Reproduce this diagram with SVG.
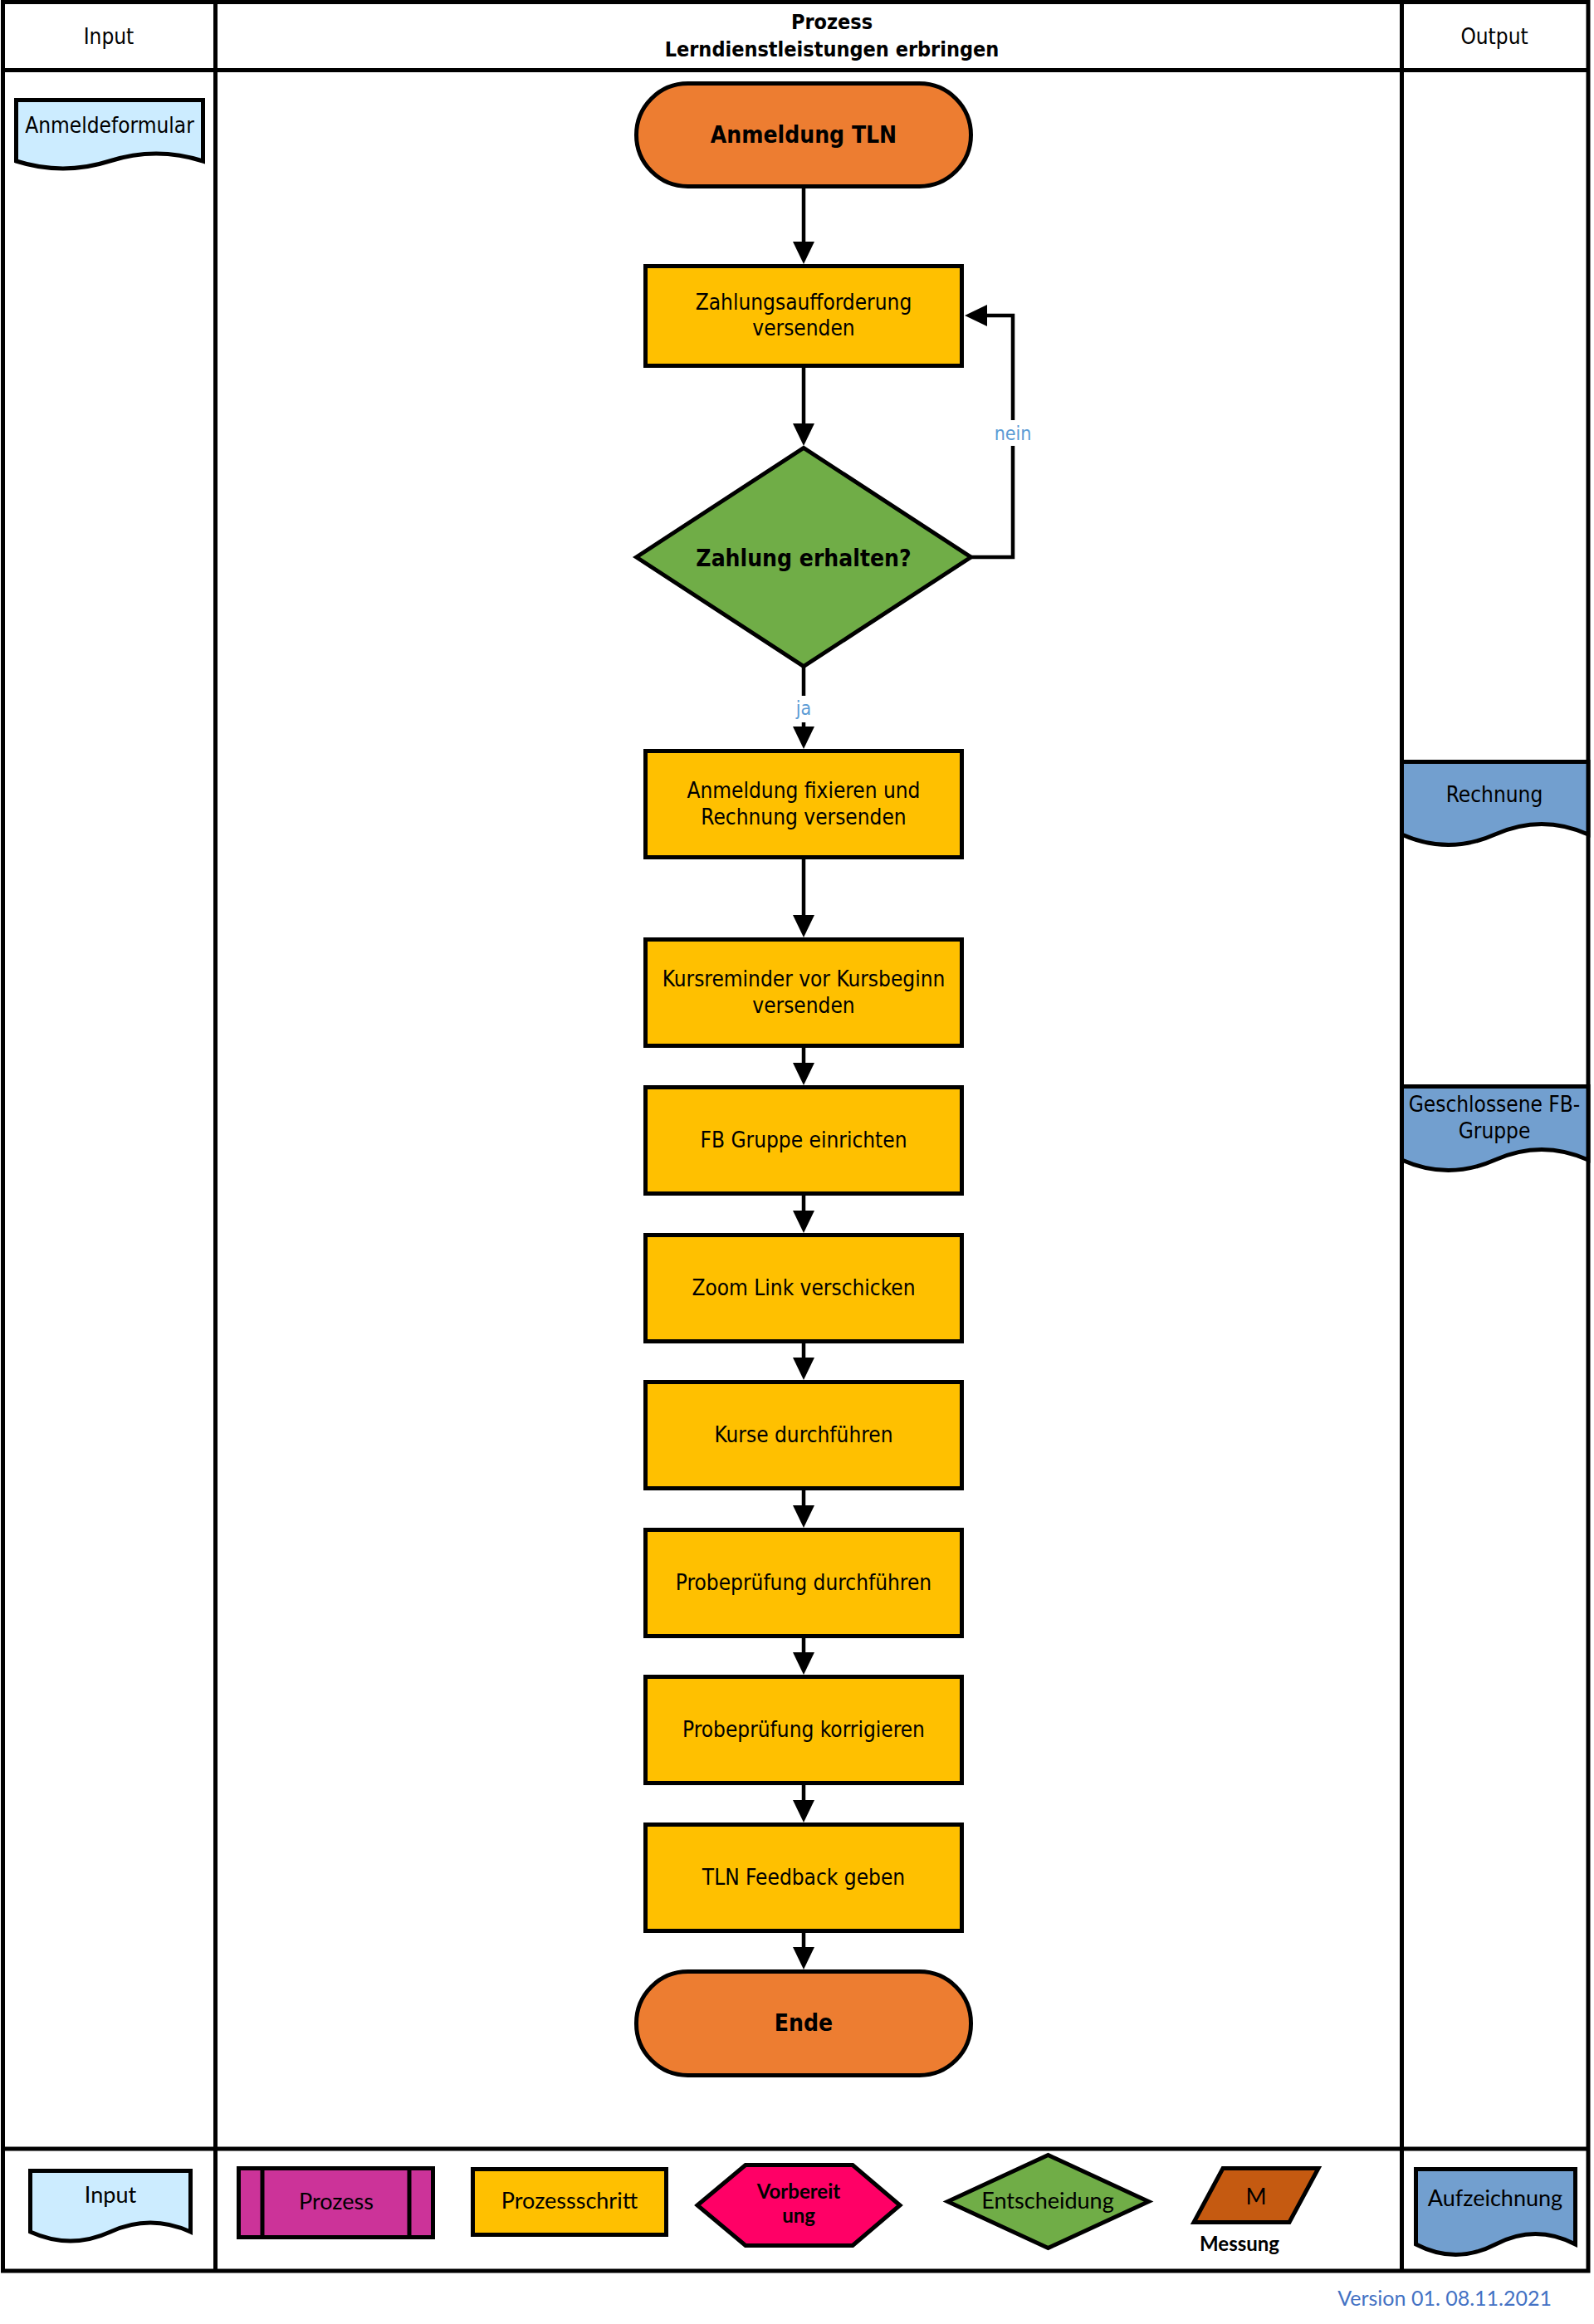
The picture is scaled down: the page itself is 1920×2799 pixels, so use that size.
<svg xmlns="http://www.w3.org/2000/svg" width="1920" height="2799" viewBox="0 0 1920 2799">
<style>
.frame{fill:none;stroke:#000;stroke-width:5}
.ln{stroke:#000;stroke-width:4.5;fill:none}
.sh{stroke:#000;stroke-width:5}
.t{font-family:"DejaVu Sans Condensed","DejaVu Sans",sans-serif;font-stretch:condensed;font-size:26px;fill:#000;text-anchor:middle}
.b{font-weight:bold;font-size:28px}
.hb{font-weight:bold;font-size:25px}
.lg{font-family:Lato,"Liberation Sans",sans-serif;font-size:27px;fill:#000;text-anchor:middle}
.lgb{font-weight:bold;font-size:24px}
.lbl{font-family:"DejaVu Sans Condensed","DejaVu Sans",sans-serif;font-stretch:condensed;font-size:23px;fill:#5B9BD5;text-anchor:middle}
.orange{fill:#ED7D31}.yellow{fill:#FFC000}.green{fill:#70AD47}.lblue{fill:#CCECFF}.dblue{fill:#729FCF}
</style>
<defs>
<marker id="arr" markerUnits="userSpaceOnUse" markerWidth="27" markerHeight="26" viewBox="0 0 27 26" refX="1" refY="13" orient="auto"><path d="M0,0 L27,13 L0,26 z" fill="#000"/></marker>
</defs>
<rect width="1920" height="2799" fill="#fff"/>
<g id="frame">
<rect class="frame" x="3.5" y="2.5" width="1909.5" height="2732.5"/>
<line class="frame" x1="3.5" y1="84.5" x2="1913" y2="84.5"/>
<line class="frame" x1="3.5" y1="2588" x2="1913" y2="2588"/>
<line class="frame" x1="259.5" y1="2.5" x2="259.5" y2="2735"/>
<line class="frame" x1="1688.5" y1="2.5" x2="1688.5" y2="2735"/>
<text class="t" x="131" y="53">Input</text>
<text class="t hb" x="1002" y="35">Prozess</text>
<text class="t hb" x="1002" y="68">Lerndienstleistungen erbringen</text>
<text class="t" x="1800" y="53">Output</text>
</g>
<g id="connectors">
<line class="ln" x1="968" y1="227" x2="968" y2="292" marker-end="url(#arr)"/>
<line class="ln" x1="968" y1="443" x2="968" y2="511" marker-end="url(#arr)"/>
<path class="ln" d="M1170,671 H1220 V380 H1188" marker-end="url(#arr)"/>
<rect x="1200" y="506" width="40" height="31" fill="#fff"/>
<text class="lbl" x="1220" y="530">nein</text>
<line class="ln" x1="968" y1="803" x2="968" y2="876" marker-end="url(#arr)"/>
<rect x="955" y="838" width="26" height="32" fill="#fff"/>
<text class="lbl" x="968" y="861">ja</text>
<line class="ln" x1="968" y1="1035" x2="968" y2="1103" marker-end="url(#arr)"/>
<line class="ln" x1="968" y1="1262" x2="968" y2="1281" marker-end="url(#arr)"/>
<line class="ln" x1="968" y1="1440" x2="968" y2="1459" marker-end="url(#arr)"/>
<line class="ln" x1="968" y1="1618" x2="968" y2="1636" marker-end="url(#arr)"/>
<line class="ln" x1="968" y1="1795" x2="968" y2="1814" marker-end="url(#arr)"/>
<line class="ln" x1="968" y1="1973" x2="968" y2="1991" marker-end="url(#arr)"/>
<line class="ln" x1="968" y1="2150" x2="968" y2="2169" marker-end="url(#arr)"/>
<line class="ln" x1="968" y1="2328" x2="968" y2="2346" marker-end="url(#arr)"/>
</g>
<g id="anmeldeformular">
<path class="sh lblue" d="M19.5,120.5 H244.5 V194 Q188,176 132,194 T19.5,194 Z"/>
<text class="t" x="132" y="160">Anmeldeformular</text>
</g>
<g id="start">
<rect class="sh orange" x="766.5" y="100.5" width="403" height="124" rx="62"/>
<text class="t b" x="968" y="172">Anmeldung TLN</text>
</g>
<g id="zahlungsaufforderung">
<rect class="sh yellow" x="777.5" y="320.5" width="381" height="120"/>
<text class="t" x="968" y="373">Zahlungsaufforderung</text>
<text class="t" x="968" y="404">versenden</text>
</g>
<g id="entscheidung">
<polygon class="sh green" points="766.5,671 968,539.5 1169.5,671 968,802.5"/>
<text class="t b" x="968" y="682">Zahlung erhalten?</text>
</g>
<g id="fixieren">
<rect class="sh yellow" x="777.5" y="904.5" width="381" height="128"/>
<text class="t" x="968" y="961">Anmeldung fixieren und</text>
<text class="t" x="968" y="993">Rechnung versenden</text>
</g>
<g id="kursreminder">
<rect class="sh yellow" x="777.5" y="1131.5" width="381" height="128"/>
<text class="t" x="968" y="1188">Kursreminder vor Kursbeginn</text>
<text class="t" x="968" y="1220">versenden</text>
</g>
<g id="fbgruppe">
<rect class="sh yellow" x="777.5" y="1309.5" width="381" height="128"/>
<text class="t" x="968" y="1382">FB Gruppe einrichten</text>
</g>
<g id="zoomlink">
<rect class="sh yellow" x="777.5" y="1487.5" width="381" height="128"/>
<text class="t" x="968" y="1560">Zoom Link verschicken</text>
</g>
<g id="kurse">
<rect class="sh yellow" x="777.5" y="1664.5" width="381" height="128"/>
<text class="t" x="968" y="1737">Kurse durchführen</text>
</g>
<g id="probedurch">
<rect class="sh yellow" x="777.5" y="1842.5" width="381" height="128"/>
<text class="t" x="968" y="1915">Probeprüfung durchführen</text>
</g>
<g id="probekorr">
<rect class="sh yellow" x="777.5" y="2019.5" width="381" height="128"/>
<text class="t" x="968" y="2092">Probeprüfung korrigieren</text>
</g>
<g id="feedback">
<rect class="sh yellow" x="777.5" y="2197.5" width="381" height="128"/>
<text class="t" x="968" y="2270">TLN Feedback geben</text>
</g>
<g id="ende">
<rect class="sh orange" x="766.5" y="2374.5" width="403" height="125" rx="62"/>
<text class="t b" x="968" y="2446">Ende</text>
</g>
<g id="rechnung">
<path class="sh dblue" d="M1688.5,917.5 H1913 V1005 Q1857,980 1800.75,1005 T1688.5,1005 Z"/>
<text class="t" x="1800" y="966">Rechnung</text>
</g>
<g id="fbgruppe-out">
<path class="sh dblue" d="M1688.5,1308.5 H1913 V1397 Q1857,1372 1800.75,1397 T1688.5,1397 Z"/>
<text class="t" x="1800" y="1339">Geschlossene FB-</text>
<text class="t" x="1800" y="1371">Gruppe</text>
</g>
<g id="legend-input">
<path class="sh lblue" d="M36.5,2614.5 H229.5 V2688 Q181,2666 133,2688 T36.5,2688 Z"/>
<text class="lg" x="133" y="2653">Input</text>
</g>
<g id="legend-prozess">
<rect class="sh" fill="#CC3399" x="287.5" y="2611.5" width="234" height="83"/>
<line class="sh" x1="316" y1="2611.5" x2="316" y2="2694.5"/>
<line class="sh" x1="493" y1="2611.5" x2="493" y2="2694.5"/>
<text class="lg" x="405" y="2661">Prozess</text>
</g>
<g id="legend-schritt">
<rect class="sh yellow" x="569.5" y="2612.5" width="233" height="79"/>
<text class="lg" x="686" y="2660">Prozessschritt</text>
</g>
<g id="legend-vorbereitung">
<polygon class="sh" fill="#FF0066" points="840,2656 898,2607.5 1027,2607.5 1084,2656 1027,2704.5 898,2704.5"/>
<text class="lg lgb" x="962" y="2648">Vorbereit</text>
<text class="lg lgb" x="962" y="2677">ung</text>
</g>
<g id="legend-entscheidung">
<polygon class="sh green" points="1141.5,2651.5 1262.5,2595.5 1383.5,2651.5 1262.5,2707.5"/>
<text class="lg" x="1262" y="2660">Entscheidung</text>
</g>
<g id="legend-messung">
<polygon class="sh" fill="#C55A11" points="1473,2611.5 1588,2611.5 1553,2676.5 1438,2676.5"/>
<text class="lg" x="1513" y="2655" font-size="32">M</text>
<text class="lg lgb" x="1493" y="2711">Messung</text>
</g>
<g id="legend-aufzeichnung">
<path class="sh dblue" d="M1705.5,2612.5 H1897.5 V2703 Q1849.5,2678 1801.5,2703 T1705.5,2703 Z"/>
<text class="lg" x="1801" y="2657">Aufzeichnung</text>
</g>
<text x="1869" y="2777" font-family="Lato,'Liberation Sans',sans-serif" font-size="25" fill="#4472C4" text-anchor="end">Version 01. 08.11.2021</text>
</svg>
